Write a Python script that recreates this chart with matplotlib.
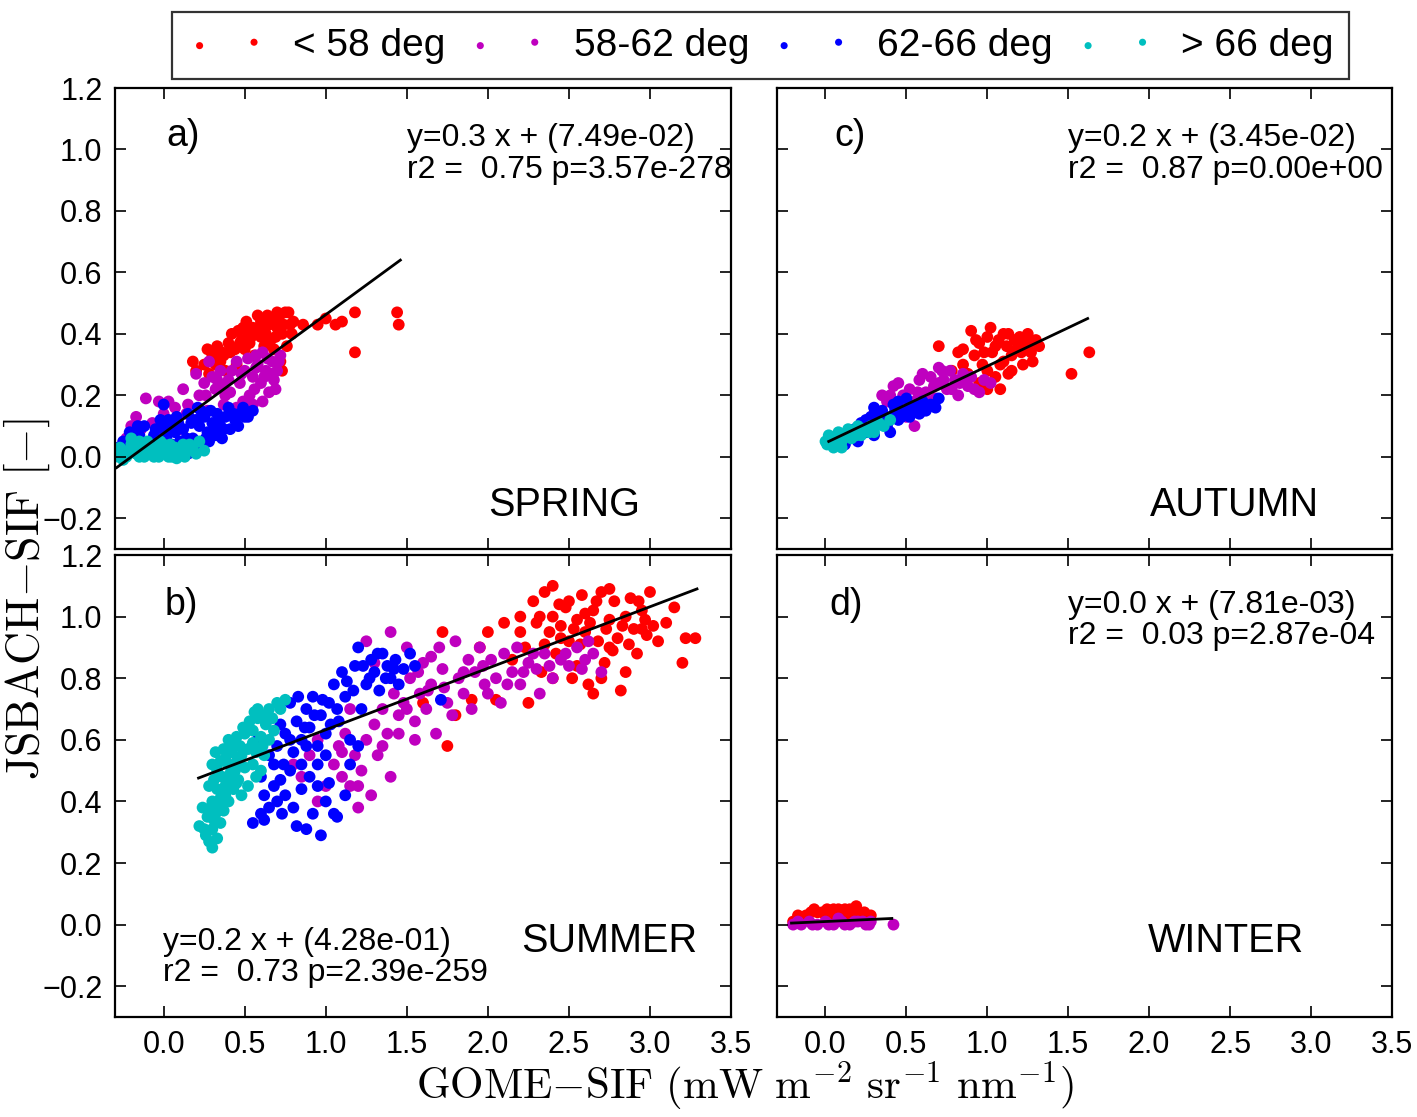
import numpy as np
import matplotlib
matplotlib.use("Agg")
import matplotlib.pyplot as plt

plt.rcParams['font.family'] = ['Liberation Sans', 'DejaVu Sans']
plt.rcParams['mathtext.fontset'] = 'cm'

# group labels / colours
groups = ['< 58 deg', '58-62 deg', '62-66 deg', '> 66 deg']
colors = ['r', 'm', 'b', 'c']

# ---- SPRING (a) ----
spring_red = [(0.27, 0.35), (0.18, 0.31), (0.20, 0.28), (0.25, 0.30), (0.30, 0.33), (0.33, 0.36), (0.36, 0.34),
              (0.40, 0.37), (0.42, 0.40), (0.46, 0.41), (0.48, 0.38), (0.50, 0.35), (0.52, 0.40), (0.55, 0.42),
              (0.58, 0.46), (0.60, 0.39), (0.62, 0.36), (0.63, 0.40), (0.65, 0.43), (0.67, 0.45), (0.70, 0.42),
              (0.71, 0.45), (0.73, 0.40), (0.75, 0.47), (0.77, 0.47), (0.78, 0.43), (0.72, 0.31), (0.73, 0.28),
              (0.68, 0.35), (0.56, 0.33), (0.45, 0.30), (0.38, 0.28), (0.28, 0.27), (0.35, 0.31), (0.44, 0.35),
              (0.53, 0.37), (0.60, 0.44), (0.66, 0.38), (0.76, 0.36), (0.80, 0.44), (0.86, 0.43), (0.95, 0.43),
              (1.00, 0.45), (1.06, 0.43), (1.10, 0.44), (1.18, 0.47), (1.18, 0.34), (1.44, 0.47), (1.45, 0.43),
              (0.32, 0.30), (0.37, 0.33), (0.41, 0.34), (0.47, 0.37), (0.49, 0.42), (0.54, 0.39), (0.57, 0.40),
              (0.61, 0.42), (0.64, 0.46), (0.69, 0.39), (0.74, 0.43), (0.79, 0.40), (0.70, 0.47), (0.51, 0.44)]
spring_mag = [(-0.23, 0.06), (-0.20, 0.10), (-0.17, 0.13), (-0.11, 0.19), (-0.07, 0.11), (-0.03, 0.18), (0.03, 0.18),
              (0.00, 0.14), (0.06, 0.12), (0.12, 0.22), (0.15, 0.17), (0.20, 0.27), (0.22, 0.20), (0.25, 0.24),
              (0.28, 0.31), (0.30, 0.26), (0.32, 0.22), (0.35, 0.28), (0.38, 0.20), (0.40, 0.25), (0.42, 0.28),
              (0.45, 0.31), (0.47, 0.24), (0.49, 0.18), (0.50, 0.28), (0.52, 0.32), (0.55, 0.26), (0.56, 0.22),
              (0.58, 0.30), (0.60, 0.24), (0.61, 0.34), (0.61, 0.18), (0.63, 0.28), (0.65, 0.21), (0.67, 0.31),
              (0.68, 0.25), (0.70, 0.28), (0.71, 0.31), (0.72, 0.33), (0.55, 0.17), (0.45, 0.16), (0.37, 0.17),
              (0.27, 0.15), (0.18, 0.12), (0.10, 0.09), (0.33, 0.25), (0.41, 0.21), (0.48, 0.27), (0.53, 0.20),
              (0.57, 0.29), (0.62, 0.26), (0.66, 0.27), (0.69, 0.22), (0.64, 0.32), (0.57, 0.33), (0.36, 0.23),
              (0.26, 0.20), (0.14, 0.14), (0.07, 0.16), (-0.14, 0.09), (-0.03, 0.08)]
spring_blue = [(-0.28, 0.03), (-0.25, 0.05), (-0.21, 0.08), (-0.18, 0.04), (-0.15, 0.07), (-0.12, 0.10), (-0.08, 0.05),
               (-0.05, 0.09), (-0.02, 0.12), (0.00, 0.17), (0.02, 0.07), (0.05, 0.10), (0.08, 0.13), (0.10, 0.05),
               (0.12, 0.03), (0.12, 0.09), (0.15, 0.14), (0.17, 0.11), (0.18, 0.06), (0.21, 0.16), (0.22, 0.10),
               (0.24, 0.04), (0.25, 0.13), (0.27, 0.08), (0.29, 0.15), (0.30, 0.11), (0.32, 0.07), (0.33, 0.14),
               (0.35, 0.10), (0.38, 0.13), (0.40, 0.16), (0.41, 0.09), (0.44, 0.12), (0.47, 0.14), (0.50, 0.13),
               (0.52, 0.13), (0.55, 0.15), (0.20, 0.02), (0.15, 0.01), (0.28, 0.05), (0.36, 0.06), (0.05, 0.04),
               (-0.10, 0.02), (-0.22, 0.05), (-0.16, 0.10), (-0.06, 0.07), (0.00, 0.09), (0.03, 0.12), (0.07, 0.08),
               (0.14, 0.06), (0.20, 0.12), (0.23, 0.15), (0.26, 0.06), (0.31, 0.09), (0.34, 0.12), (0.37, 0.09),
               (0.43, 0.14), (0.46, 0.10), (0.49, 0.16), (0.16, 0.04), (0.09, 0.11)]
spring_cyan = [(-0.28, 0.00), (-0.25, 0.02), (-0.22, 0.01), (-0.20, 0.04), (-0.18, 0.02), (-0.15, 0.00), (-0.13, 0.03),
               (-0.10, 0.05), (-0.08, 0.01), (-0.05, 0.03), (-0.03, 0.00), (0.00, 0.04), (0.02, 0.02), (0.05, 0.00),
               (0.07, 0.03), (0.10, 0.01), (0.12, 0.04), (0.15, 0.02), (0.18, 0.03), (0.22, 0.05), (0.25, 0.02),
               (-0.15, 0.05), (0.08, -0.005), (-0.25, -0.01), (-0.27, 0.03), (-0.23, 0.00), (-0.17, 0.01),
               (-0.12, 0.00), (-0.10, 0.02), (-0.06, 0.00), (-0.01, 0.02), (0.03, 0.00), (0.04, 0.04), (0.09, 0.02),
               (0.13, 0.00), (0.16, 0.04), (0.20, 0.01), (-0.20, 0.06), (-0.02, 0.05)]
spring_fit_x = [-0.29, 1.46]
spring_fit_y = [-0.035, 0.64]

# ---- SUMMER (b) ----
summer_red = [(1.72, 0.95), (1.75, 0.58), (1.80, 0.68), (1.95, 0.90), (2.05, 0.73), (2.10, 0.98), (2.15, 0.86),
              (2.20, 0.95), (2.23, 0.90), (2.25, 0.72), (2.28, 1.05), (2.30, 0.98), (2.33, 0.82), (2.35, 1.08),
              (2.38, 0.95), (2.40, 1.00), (2.42, 0.88), (2.45, 0.97), (2.48, 1.03), (2.50, 0.92), (2.52, 0.80),
              (2.55, 0.99), (2.58, 1.07), (2.60, 0.95), (2.62, 0.78), (2.65, 1.02), (2.68, 0.92), (2.70, 1.08),
              (2.72, 0.85), (2.75, 0.99), (2.78, 1.05), (2.80, 0.93), (2.82, 0.76), (2.85, 1.00), (2.88, 1.06),
              (2.90, 0.96), (2.92, 0.88), (2.95, 1.02), (2.98, 0.94), (3.00, 1.08), (3.05, 0.92), (3.10, 0.98),
              (3.15, 1.03), (3.20, 0.85), (3.22, 0.93), (3.28, 0.93), (2.40, 0.80), (2.55, 0.84), (2.65, 0.75),
              (2.85, 0.82), (2.35, 0.91), (2.60, 1.01), (2.75, 0.90), (2.50, 1.05), (2.95, 0.96), (1.90, 0.73),
              (2.00, 0.95), (1.60, 0.72), (2.32, 1.00), (2.44, 1.04), (2.53, 0.96), (2.57, 0.91), (2.63, 0.98),
              (2.67, 1.05), (2.73, 0.96), (2.77, 0.89), (2.83, 0.97), (2.87, 0.91), (2.93, 1.05), (2.97, 0.99),
              (2.45, 0.93), (2.70, 0.80), (3.02, 0.97), (2.20, 1.00), (2.40, 1.10), (2.75, 1.09)]
summer_mag = [(0.80, 0.52), (0.85, 0.48), (0.90, 0.55), (0.95, 0.40), (1.00, 0.45), (1.05, 0.52), (1.08, 0.58),
              (1.10, 0.48), (1.12, 0.62), (1.15, 0.45), (1.18, 0.55), (1.20, 0.38), (1.22, 0.50), (1.25, 0.60),
              (1.28, 0.42), (1.30, 0.65), (1.32, 0.55), (1.35, 0.70), (1.38, 0.62), (1.40, 0.48), (1.42, 0.75),
              (1.45, 0.68), (1.48, 0.72), (1.50, 0.90), (1.52, 0.80), (1.55, 0.66), (1.58, 0.75), (1.60, 0.85),
              (1.62, 0.70), (1.65, 0.78), (1.68, 0.62), (1.70, 0.90), (1.72, 0.83), (1.75, 0.72), (1.78, 0.68),
              (1.80, 0.92), (1.82, 0.80), (1.85, 0.75), (1.88, 0.86), (1.90, 0.70), (1.92, 0.82), (1.95, 0.90),
              (1.98, 0.78), (2.00, 0.75), (2.02, 0.86), (2.05, 0.80), (2.08, 0.72), (2.10, 0.88), (2.15, 0.82),
              (2.18, 0.90), (2.20, 0.78), (2.25, 0.85), (2.30, 0.83), (2.32, 0.75), (2.35, 0.88), (2.40, 0.80),
              (2.45, 0.86), (2.50, 0.84), (2.55, 0.90), (2.60, 0.86), (2.65, 0.88), (2.70, 0.82), (1.25, 0.92),
              (1.40, 0.95), (1.30, 0.85), (1.55, 0.60), (1.65, 0.87), (0.95, 0.60), (1.15, 0.70), (1.45, 0.62),
              (1.50, 0.70), (1.57, 0.82), (1.63, 0.76), (1.73, 0.77), (1.85, 0.82), (1.97, 0.84), (2.12, 0.78),
              (2.22, 0.82), (2.28, 0.88), (2.38, 0.84), (2.48, 0.88), (2.58, 0.83), (1.10, 0.56), (1.20, 0.45),
              (1.35, 0.58), (2.62, 0.92)]
summer_blue = [(0.55, 0.33), (0.60, 0.36), (0.65, 0.38), (0.62, 0.42), (0.70, 0.40), (0.68, 0.45), (0.75, 0.42),
               (0.72, 0.47), (0.78, 0.50), (0.80, 0.38), (0.82, 0.32), (0.85, 0.44), (0.88, 0.31), (0.90, 0.48),
               (0.92, 0.36), (0.95, 0.52), (0.97, 0.29), (1.00, 0.40), (1.02, 0.46), (1.05, 0.36), (1.07, 0.35),
               (0.65, 0.55), (0.70, 0.58), (0.75, 0.62), (0.80, 0.56), (0.82, 0.66), (0.85, 0.60), (0.88, 0.70),
               (0.90, 0.64), (0.92, 0.74), (0.95, 0.58), (0.97, 0.68), (1.00, 0.62), (1.02, 0.72), (1.05, 0.78),
               (1.08, 0.66), (1.10, 0.82), (1.12, 0.74), (1.15, 0.60), (1.18, 0.84), (1.20, 0.90), (1.22, 0.70),
               (1.25, 0.78), (1.28, 0.86), (1.30, 0.82), (1.33, 0.76), (1.35, 0.88), (1.38, 0.84), (1.40, 0.80),
               (1.43, 0.86), (1.45, 0.78), (1.48, 0.83), (1.52, 0.88), (1.55, 0.84), (1.71, 0.73), (0.78, 0.72),
               (0.85, 0.52), (1.15, 0.52), (1.20, 0.58), (0.72, 0.65), (0.95, 0.45), (1.12, 0.42), (1.00, 0.55),
               (0.88, 0.58), (0.60, 0.48), (0.58, 0.60), (0.74, 0.52), (0.78, 0.60), (0.83, 0.74), (0.87, 0.64),
               (0.93, 0.68), (0.98, 0.73), (1.03, 0.65), (1.07, 0.70), (1.13, 0.79), (1.17, 0.76), (1.23, 0.84),
               (1.27, 0.80), (1.32, 0.88), (1.37, 0.80), (1.42, 0.83), (0.68, 0.52), (0.73, 0.36), (0.62, 0.34)]
summer_cyan = [(0.30, 0.25), (0.28, 0.27), (0.33, 0.28), (0.22, 0.32), (0.25, 0.31), (0.30, 0.31), (0.35, 0.33),
               (0.27, 0.35), (0.32, 0.36), (0.37, 0.37), (0.30, 0.40), (0.35, 0.41), (0.40, 0.40), (0.33, 0.44),
               (0.38, 0.45), (0.43, 0.44), (0.36, 0.48), (0.41, 0.49), (0.46, 0.47), (0.30, 0.52), (0.35, 0.53),
               (0.40, 0.52), (0.45, 0.53), (0.50, 0.51), (0.55, 0.52), (0.32, 0.56), (0.37, 0.57), (0.42, 0.56),
               (0.47, 0.58), (0.52, 0.57), (0.57, 0.56), (0.62, 0.55), (0.45, 0.61), (0.50, 0.62), (0.55, 0.63),
               (0.60, 0.61), (0.53, 0.66), (0.58, 0.67), (0.63, 0.65), (0.58, 0.70), (0.65, 0.70), (0.70, 0.72),
               (0.75, 0.73), (0.68, 0.63), (0.40, 0.60), (0.28, 0.45), (0.24, 0.38), (0.48, 0.42), (0.52, 0.45),
               (0.60, 0.50), (0.26, 0.29), (0.31, 0.34), (0.29, 0.38), (0.34, 0.39), (0.38, 0.42), (0.31, 0.47),
               (0.39, 0.47), (0.44, 0.50), (0.33, 0.50), (0.48, 0.55), (0.43, 0.58), (0.38, 0.54), (0.55, 0.59),
               (0.61, 0.58), (0.65, 0.60), (0.56, 0.69), (0.62, 0.68), (0.67, 0.67), (0.72, 0.70), (0.49, 0.64),
               (0.45, 0.46), (0.57, 0.48)]
summer_fit_x = [0.215, 3.29]
summer_fit_y = [0.476, 1.09]

# ---- AUTUMN (c) ----
autumn_red = [(0.70, 0.36), (0.82, 0.34), (0.85, 0.30), (0.88, 0.27), (0.90, 0.41), (0.92, 0.33), (0.95, 0.37),
              (0.97, 0.30), (1.00, 0.39), (1.02, 0.42), (1.03, 0.34), (1.05, 0.26), (1.07, 0.38), (1.08, 0.22),
              (1.10, 0.31), (1.12, 0.36), (1.13, 0.40), (1.15, 0.33), (1.18, 0.35), (1.20, 0.39), (1.22, 0.30),
              (1.23, 0.37), (1.25, 0.40), (1.27, 0.34), (1.30, 0.38), (1.32, 0.36), (1.28, 0.31), (0.95, 0.24),
              (1.00, 0.28), (1.52, 0.27), (1.63, 0.34), (0.78, 0.28), (1.15, 0.28), (1.00, 0.22), (0.93, 0.38),
              (0.98, 0.34), (1.05, 0.36), (1.10, 0.40), (1.17, 0.38), (1.21, 0.34), (1.26, 0.37), (1.08, 0.30),
              (1.13, 0.27), (0.85, 0.35)]
autumn_mag = [(0.24, 0.09), (0.30, 0.14), (0.35, 0.12), (0.38, 0.18), (0.42, 0.23), (0.45, 0.16), (0.48, 0.20),
              (0.50, 0.13), (0.52, 0.22), (0.55, 0.18), (0.58, 0.25), (0.60, 0.15), (0.62, 0.21), (0.65, 0.26),
              (0.68, 0.19), (0.70, 0.24), (0.72, 0.28), (0.75, 0.22), (0.77, 0.28), (0.80, 0.25), (0.82, 0.20),
              (0.85, 0.27), (0.88, 0.23), (0.90, 0.26), (0.95, 0.21), (0.98, 0.25), (1.02, 0.24), (0.55, 0.10),
              (0.45, 0.24), (0.35, 0.20), (0.40, 0.20), (0.50, 0.17), (0.57, 0.21), (0.63, 0.18), (0.67, 0.23),
              (0.73, 0.25), (0.78, 0.22), (0.83, 0.24), (0.87, 0.26), (0.92, 0.22), (0.60, 0.27), (0.70, 0.29)]
autumn_blue = [(0.15, 0.06), (0.18, 0.09), (0.20, 0.05), (0.22, 0.11), (0.25, 0.08), (0.28, 0.13), (0.30, 0.07),
               (0.33, 0.11), (0.35, 0.15), (0.38, 0.10), (0.40, 0.13), (0.42, 0.17), (0.45, 0.12), (0.48, 0.15),
               (0.50, 0.19), (0.52, 0.13), (0.55, 0.16), (0.58, 0.14), (0.60, 0.18), (0.62, 0.15), (0.65, 0.17),
               (0.68, 0.16), (0.70, 0.19), (0.30, 0.16), (0.25, 0.12), (0.40, 0.08), (0.12, 0.04), (0.23, 0.09),
               (0.27, 0.11), (0.32, 0.13), (0.36, 0.12), (0.43, 0.15), (0.47, 0.13), (0.53, 0.16), (0.57, 0.17),
               (0.63, 0.16), (0.18, 0.06), (0.20, 0.08), (0.45, 0.18)]
autumn_cyan = [(0.00, 0.05), (0.02, 0.07), (0.04, 0.04), (0.06, 0.06), (0.08, 0.08), (0.10, 0.05), (0.12, 0.07),
               (0.14, 0.09), (0.16, 0.06), (0.18, 0.08), (0.20, 0.10), (0.22, 0.07), (0.25, 0.09), (0.28, 0.10),
               (0.30, 0.08), (0.33, 0.11), (0.36, 0.10), (0.40, 0.12), (0.05, 0.03), (0.10, 0.03), (0.03, 0.06),
               (0.07, 0.05), (0.11, 0.06), (0.15, 0.08), (0.19, 0.07), (0.23, 0.09), (0.27, 0.08), (0.31, 0.10),
               (0.01, 0.04), (0.09, 0.07)]
autumn_fit_x = [0.02, 1.62]
autumn_fit_y = [0.05, 0.45]

# ---- WINTER (d) ----
winter_red = [(-0.20, 0.01), (-0.15, 0.02), (-0.12, 0.03), (-0.07, 0.05), (-0.05, 0.04), (-0.02, 0.04), (0.00, 0.03),
              (0.03, 0.04), (0.05, 0.05), (0.08, 0.05), (0.10, 0.04), (0.12, 0.05), (0.15, 0.05), (0.17, 0.04),
              (0.19, 0.06), (0.22, 0.03), (0.28, 0.03), (-0.17, 0.03), (-0.09, 0.04), (0.01, 0.05), (0.06, 0.03),
              (0.13, 0.03), (0.24, 0.04)]
winter_mag = [(-0.20, 0.00), (-0.15, 0.00), (-0.10, 0.01), (-0.05, 0.00), (0.00, 0.01), (0.05, 0.00), (0.08, 0.02),
              (0.10, 0.01), (0.15, 0.00), (0.20, 0.01), (0.25, 0.00), (0.28, 0.01), (0.42, 0.00), (-0.17, 0.01),
              (-0.08, 0.00), (0.02, 0.00), (0.12, 0.00), (0.18, 0.01), (0.23, 0.01), (0.27, 0.00)]
winter_blue = []
winter_cyan = []
winter_fit_x = [-0.21, 0.41]
winter_fit_y = [0.005, 0.02]

# panel texts
panel_tags = ['a)', 'b)', 'c)', 'd)']
seasons = ['SPRING', 'SUMMER', 'AUTUMN', 'WINTER']
eq_lines = [('y=0.3 x + (7.49e-02)', 'r2 =  0.75 p=3.57e-278'),
            ('y=0.2 x + (4.28e-01)', 'r2 =  0.73 p=2.39e-259'),
            ('y=0.2 x + (3.45e-02)', 'r2 =  0.87 p=0.00e+00'),
            ('y=0.0 x + (7.81e-03)', 'r2 =  0.03 p=2.87e-04')]

panels = [
    [spring_red, spring_mag, spring_blue, spring_cyan, spring_fit_x, spring_fit_y],
    [summer_red, summer_mag, summer_blue, summer_cyan, summer_fit_x, summer_fit_y],
    [autumn_red, autumn_mag, autumn_blue, autumn_cyan, autumn_fit_x, autumn_fit_y],
    [winter_red, winter_mag, winter_blue, winter_cyan, winter_fit_x, winter_fit_y],
]

# axes rectangles (a, b, c, d) and text placements in axes fraction
rects = [[0.0812, 0.5085, 0.4347, 0.4127],
         [0.0812, 0.0895, 0.4347, 0.4136],
         [0.5483, 0.5085, 0.4340, 0.4127],
         [0.5483, 0.0895, 0.4340, 0.4136]]
tag_pos = [(0.084, 0.895), (0.081, 0.892), (0.093, 0.895), (0.085, 0.892)]
eq_pos = [(0.474, 0.891, 0.822), (0.078, 0.162, 0.095), (0.473, 0.891, 0.822), (0.473, 0.892, 0.825)]
season_pos = [(0.605, 0.095), (0.659, 0.165), (0.607, 0.095), (0.603, 0.165)]

fig = plt.figure(figsize=(14.17, 11.17), dpi=100)

handles = []
for i, (pdata, rect) in enumerate(zip(panels, rects)):
    ax = fig.add_axes(rect)
    for j in range(4):
        pts = np.array(pdata[j]).reshape(-1, 2)
        sc = ax.scatter(pts[:, 0], pts[:, 1], s=72, c=colors[j], edgecolors='none', label=groups[j])
        if i == 0:
            handles.append(sc)
    ax.plot(pdata[4], pdata[5], color='k', lw=2)

    ax.set_xlim(-0.3, 3.5)
    ax.set_ylim(-0.3, 1.2)
    ax.set_xticks(np.arange(0, 3.51, 0.5))
    ax.set_yticks(np.arange(-0.2, 1.21, 0.2))
    ax.tick_params(direction='in', length=8, width=1.2, top=True, right=True,
                   labelsize=22, pad=9)
    ax.set_xticklabels(['%.1f' % v for v in np.arange(0, 3.51, 0.5)])
    ax.set_yticklabels(['\u22120.2' if v < -0.1 else '%.1f' % v for v in np.arange(-0.2, 1.21, 0.2)])
    if i in (0, 2):
        ax.tick_params(labelbottom=False)
    if i in (2, 3):
        ax.tick_params(labelleft=False)
    for sp in ax.spines.values():
        sp.set_linewidth(1.6)

    ax.text(tag_pos[i][0], tag_pos[i][1], panel_tags[i], transform=ax.transAxes,
            fontsize=27, va='center', ha='left')
    ex, ey1, ey2 = eq_pos[i]
    ax.text(ex, ey1, eq_lines[i][0], transform=ax.transAxes, fontsize=23, va='center', ha='left')
    ax.text(ex, ey2, eq_lines[i][1], transform=ax.transAxes, fontsize=23, va='center', ha='left')
    ax.text(season_pos[i][0], season_pos[i][1], seasons[i], transform=ax.transAxes,
            fontsize=28.5, va='center', ha='left')

leg = fig.legend(handles=handles, labels=groups, loc='upper center', bbox_to_anchor=(0.537, 0.989),
                 ncol=4, scatterpoints=2, markerscale=0.6, fontsize=28, frameon=True,
                 fancybox=False, handlelength=2.0, handletextpad=0.7, columnspacing=0.6,
                 borderpad=0.4, borderaxespad=0.0)
leg.get_frame().set_edgecolor('k')
leg.get_frame().set_linewidth(1.6)

fig.text(0.019, 0.464, r'$\mathrm{JSBACH{-}SIF\ [-]}$', rotation=90, fontsize=33,
         ha='center', va='center')
fig.text(0.526, 0.027, r'$\mathrm{GOME{-}SIF\ (mW\ m^{-2}\ sr^{-1}\ nm^{-1})}$', fontsize=31,
         ha='center', va='center')

fig.savefig('out.png', dpi=100)
